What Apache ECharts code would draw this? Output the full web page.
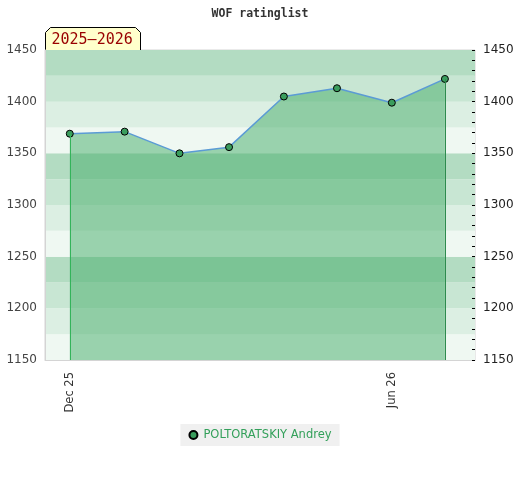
<!DOCTYPE html>
<html>
<head>
<meta charset="utf-8">
<script src="https://cdn.jsdelivr.net/npm/echarts@6/dist/echarts.min.js"></script>
<style>html,body{margin:0;padding:0;background:#fff}#c{width:520px;height:480px}</style>
</head>
<body>
<div id="c"></div>
<script>
const titleText = 'WOF ratinglist';
const seasonLabel = '2025–2026';
const playerName = 'POLTORATSKIY Andrey';
const dates = ['2025-12-01','2026-01-01','2026-02-01','2026-03-01','2026-04-01','2026-05-01','2026-06-01','2026-07-01'];
const ratings = [1369, 1371, 1350, 1356, 1405, 1413, 1399, 1422];
const xLabelDates = ['2025-12-01','2026-06-01'];
const xMin = '2025-11-17';
const xMax = '2026-07-18';
const yMin = 1150, yMax = 1450;
const bandColors = ['#eff8f2','#dcefe3','#c8e6d3','#b3dcc2'];
const monthNames = ['Jan','Feb','Mar','Apr','May','Jun','Jul','Aug','Sep','Oct','Nov','Dec'];

const ts = s => { const p = s.split('-').map(Number); return Date.UTC(p[0], p[1]-1, p[2]); };
const seriesData = dates.map((d, i) => [ts(d), ratings[i]]);
const last = seriesData.length - 1;

const chart = echarts.init(document.getElementById('c'));
chart.setOption({
  animation: false,
  title: {
    text: titleText, left: 'center', top: 3,
    textStyle: { fontFamily: 'DejaVu Sans Mono', fontWeight: 'bold', fontSize: 11.5, color: '#333' }
  },
  grid: { left: 45, right: 45, top: 50, bottom: 120, show: true, borderColor: '#d4d4d4', borderWidth: 1 },
  legend: {
    bottom: 34, left: 'center',
    backgroundColor: '#f0f0f0', padding: [5, 8, 5, 8],
    itemWidth: 10, itemHeight: 8, itemGap: 10,
    icon: 'circle',
    textStyle: { color: '#33a05a', fontFamily: 'DejaVu Sans', fontSize: 11.5 },
    data: [playerName]
  },
  xAxis: {
    type: 'value', min: ts(xMin), max: ts(xMax),
    axisLine: { show: true, lineStyle: { color: '#d4d4d4' } },
    axisTick: { show: false },
    splitLine: { show: false },
    axisLabel: {
      rotate: 90, margin: 12, color: '#333', fontFamily: 'DejaVu Sans', fontSize: 11.5,
      customValues: xLabelDates.map(ts),
      formatter: v => { const d = new Date(v); return monthNames[d.getUTCMonth()] + ' ' + String(d.getUTCFullYear()).slice(2); }
    }
  },
  yAxis: [
    {
      type: 'value', min: yMin, max: yMax, interval: 25, position: 'left',
      axisLine: { show: true, lineStyle: { color: '#d4d4d4' } },
      axisTick: { show: false },
      splitLine: { show: false },
      splitArea: { show: true, areaStyle: { color: bandColors } },
      axisLabel: { color: '#444', fontFamily: 'DejaVu Sans', fontSize: 12, margin: 8,
        formatter: v => (v % 50 === 0 ? String(v) : '') }
    },
    {
      type: 'value', min: yMin, max: yMax, interval: 50, position: 'right',
      axisLine: { show: false },
      axisTick: { show: true, inside: true, length: 3, lineStyle: { color: '#000' } },
      minorTick: { show: true, splitNumber: 5, length: 3, lineStyle: { color: '#000' } },
      splitLine: { show: false },
      axisLabel: { color: '#222', fontFamily: 'DejaVu Sans', fontSize: 12, margin: 8,
        formatter: v => String(v) }
    }
  ],
  series: [{
    name: playerName, type: 'line', yAxisIndex: 0,
    data: seriesData,
    symbol: 'circle', symbolSize: 7,
    itemStyle: { color: '#3a9d5d', borderColor: '#000', borderWidth: 1 },
    lineStyle: { color: '#5b9bd5', width: 1.5 },
    areaStyle: { color: 'rgba(67,172,104,0.5)', opacity: 1, origin: 'start' },
    markLine: {
      silent: true, symbol: ['none', 'none'], label: { show: false },
      data: [
        [{ coord: [seriesData[0][0], seriesData[0][1]], lineStyle: { color: '#33b35a', width: 1, type: 'solid' } },
         { coord: [seriesData[0][0], yMin] }],
        [{ coord: [seriesData[last][0], seriesData[last][1]], lineStyle: { color: '#2e8b4e', width: 1, type: 'solid' } },
         { coord: [seriesData[last][0], yMin] }]
      ]
    },
    z: 3
  }],
  graphic: [{
    type: 'group', left: 45, top: 27,
    children: [
      { type: 'polygon', shape: { points: [[0, 23], [0, 5], [5, 0], [90, 0], [95, 5], [95, 23]] },
        style: { fill: '#ffffcc', stroke: '#000', lineWidth: 1 } },
      { type: 'text', x: 6, y: 5,
        style: { text: seasonLabel, fill: '#990000', font: '15px "DejaVu Sans Mono"' } }
    ]
  }]
});
</script>
</body>
</html>
